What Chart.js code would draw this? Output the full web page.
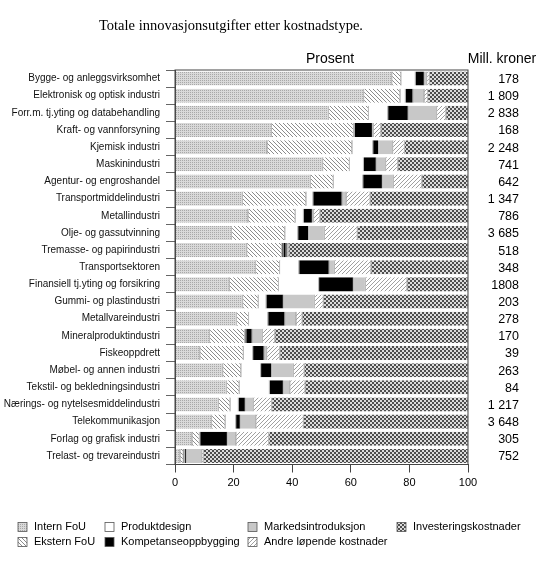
<!DOCTYPE html>
<html>
<head>
<meta charset="utf-8">
<script src="https://cdn.jsdelivr.net/npm/chart.js@4"></script>
<style>
  html, body { margin: 0; padding: 0; background: #fff; }
  #wrap { width: 550px; height: 565px; }
</style>
</head>
<body>
<div id="wrap"><canvas id="chart" width="550" height="565"></canvas></div>
<script>
const categories = [
    'Bygge- og anleggsvirksomhet', 'Elektronisk og optisk industri', 'Forr.m. tj.yting og databehandling',
    'Kraft- og vannforsyning', 'Kjemisk industri', 'Maskinindustri', 'Agentur- og engroshandel',
    'Transportmiddelindustri', 'Metallindustri', 'Olje- og gassutvinning', 'Tremasse- og papirindustri',
    'Transportsektoren', 'Finansiell tj.yting og forsikring', 'Gummi- og plastindustri', 'Metallvareindustri',
    'Mineralproduktindustri', 'Fiskeoppdrett', 'Møbel- og annen industri', 'Tekstil- og bekledningsindustri',
    'Nærings- og nytelsesmiddelindustri', 'Telekommunikasjon', 'Forlag og grafisk industri', 'Trelast- og trevareindustri'
];

const internFoU     = [74.0, 64.4, 52.4, 32.9, 31.4, 50.4, 46.2, 23.0, 24.9, 19.3, 24.5, 27.5, 18.5, 23.1, 21.0, 11.8, 8.5, 16.3, 17.6, 14.8, 12.5, 5.8, 1.7];
const eksternFoU    = [3.1, 12.4, 13.6, 28.0, 29.0, 9.1, 7.8, 21.7, 16.1, 18.2, 12.0, 8.2, 16.8, 5.3, 4.1, 12.0, 14.8, 6.2, 4.3, 4.0, 4.6, 2.5, 1.1];
const produktdesign = [4.9, 1.8, 6.6, 0.3, 7.1, 4.8, 10.1, 2.4, 2.8, 4.4, 0.4, 6.6, 13.7, 2.7, 6.6, 0.4, 3.2, 6.7, 10.3, 2.8, 3.6, 0.2, 0.4];
const kompetanse    = [3.1, 2.6, 7.0, 6.2, 2.0, 4.4, 6.7, 9.9, 3.1, 3.7, 1.0, 10.3, 11.9, 5.9, 5.8, 2.1, 3.9, 3.8, 4.8, 2.4, 1.6, 9.4, 0.7];
const markeds       = [0.8, 3.8, 9.7, 0.3, 4.8, 3.2, 3.7, 1.4, 0.4, 5.4, 0.4, 1.8, 4.1, 10.6, 3.8, 3.5, 0.9, 7.4, 2.2, 2.7, 5.3, 2.9, 5.2];
const andre         = [0.9, 1.2, 3.2, 2.6, 4.0, 4.2, 9.8, 8.2, 2.2, 11.2, 0.6, 12.5, 14.2, 3.0, 2.1, 4.3, 4.5, 3.7, 5.2, 6.3, 16.2, 11.2, 0.6];
const investering   = [13.2, 13.8, 7.5, 29.7, 21.7, 23.9, 15.7, 33.4, 50.5, 37.8, 61.1, 33.1, 20.8, 49.4, 56.6, 65.9, 64.2, 55.9, 55.6, 67.0, 56.2, 68.0, 90.3];

const millKroner = ['178', '1 809', '2 838', '168', '2 248', '741', '642', '1 347', '786', '3 685', '518', '348',
    '1808', '203', '278', '170', '39', '263', '84', '1 217', '3 648', '305', '752'];

const xTicks = [0, 20, 40, 60, 80, 100];

// fill patterns (grey-scale like the print original)
function makePattern(size, draw) {
    const c = document.createElement('canvas');
    c.width = size; c.height = size;
    const g = c.getContext('2d');
    draw(g, size);
    return g.createPattern(c, 'repeat');
}
const dots = makePattern(2, (g) => {
    g.fillStyle = '#d9d9d9'; g.fillRect(0, 0, 2, 2);
    g.fillStyle = '#a8a8a8'; g.fillRect(0, 0, 1, 1);
});
const hatchBack = makePattern(4, (g, s) => {
    g.fillStyle = '#fff'; g.fillRect(0, 0, s, s);
    g.fillStyle = '#8c8c8c';
    for (let i = 0; i < s; i++) g.fillRect(i, i, 1, 1);
});
const hatchFwd = makePattern(4, (g, s) => {
    g.fillStyle = '#fff'; g.fillRect(0, 0, s, s);
    g.fillStyle = '#a0a0a0';
    for (let i = 0; i < s; i++) g.fillRect(s - 1 - i, i, 1, 1);
});
const checker = makePattern(4, (g) => {
    g.fillStyle = '#4e4e4e'; g.fillRect(0, 0, 4, 4);
    g.fillStyle = '#dcdcdc'; g.fillRect(0, 0, 2, 2); g.fillRect(2, 2, 2, 2);
});

const series = [
    { label: 'Intern FoU', data: internFoU, fill: dots },
    { label: 'Ekstern FoU', data: eksternFoU, fill: hatchBack },
    { label: 'Produktdesign', data: produktdesign, fill: '#ffffff' },
    { label: 'Kompetanseoppbygging', data: kompetanse, fill: '#000000' },
    { label: 'Markedsintroduksjon', data: markeds, fill: '#c8c8c8' },
    { label: 'Andre løpende kostnader', data: andre, fill: hatchFwd },
    { label: 'Investeringskostnader', data: investering, fill: checker }
];

// legend grid: column-wise, two rows
const legendCols = [18, 105, 248, 397];
const legendRows = [527, 542];

const extras = {
    id: 'extras',
    afterDraw(chart) {
        const ctx = chart.ctx;
        const a = chart.chartArea;
        const yScale = chart.scales.y;
        ctx.save();
        // frame
        ctx.strokeStyle = '#444';
        ctx.lineWidth = 1;
        ctx.strokeRect(a.left, a.top, a.right - a.left, a.bottom - a.top);

        // title
        ctx.fillStyle = '#000';
        ctx.textBaseline = 'middle';
        ctx.textAlign = 'left';
        ctx.font = '14.5px "Liberation Serif", "Times New Roman", serif';
        ctx.fillText('Totale innovasjonsutgifter etter kostnadstype.', 99, 26);

        ctx.font = '14px "Liberation Sans", Arial, sans-serif';
        ctx.textAlign = 'center';
        ctx.fillText('Prosent', 330, 59);
        ctx.fillText('Mill. kroner', 502, 59);

        // right-hand column
        ctx.textAlign = 'right';
        ctx.font = '12.5px "Liberation Sans", Arial, sans-serif';
        millKroner.forEach((v, i) => {
            ctx.fillText(v, 519, yScale.getPixelForValue(i) + 1);
        });

        // legend
        ctx.font = '11px "Liberation Sans", Arial, sans-serif';
        ctx.textAlign = 'left';
        series.forEach((s, i) => {
            const x = legendCols[Math.floor(i / 2)];
            const y = legendRows[i % 2];
            ctx.fillStyle = s.fill;
            ctx.fillRect(x, y - 4.5, 9, 9);
            ctx.strokeStyle = '#555';
            ctx.lineWidth = 0.8;
            ctx.strokeRect(x, y - 4.5, 9, 9);
            ctx.fillStyle = '#000';
            ctx.fillText(s.label, x + 16, y);
        });
        ctx.restore();
    }
};

const ctx = document.getElementById('chart').getContext('2d');
const chart = new Chart(ctx, {
    type: 'bar',
    data: {
        labels: categories,
        datasets: series.map(s => ({
            label: s.label,
            data: s.data,
            backgroundColor: s.fill,
            borderColor: '#6a6a6a',
            borderWidth: { left: 0.6, right: 0.6, top: 0, bottom: 0 },
            borderSkipped: false,
            barPercentage: 0.82,
            categoryPercentage: 1.0
        }))
    },
    options: {
        indexAxis: 'y',
        responsive: false,
        animation: false,
        maintainAspectRatio: false,
        layout: { padding: { left: 0, right: 82, top: 70, bottom: 70.5 } },
        plugins: {
            legend: { display: false },
            title: { display: false },
            tooltip: { enabled: false }
        },
        scales: {
            x: {
                stacked: true,
                min: 0,
                max: 100,
                afterBuildTicks: (scale) => { scale.ticks = xTicks.map(v => ({ value: v })); },
                afterFit: (scale) => { scale.height = 30; },
                grid: { drawOnChartArea: false, drawTicks: true, tickLength: 8, color: '#444' },
                border: { display: true, color: '#444' },
                ticks: {
                    color: '#000',
                    padding: 4,
                    font: { family: '"Liberation Sans", Arial, sans-serif', size: 11 }
                }
            },
            y: {
                stacked: true,
                afterFit: (scale) => { scale.width = 175; },
                grid: { drawOnChartArea: false, drawTicks: true, tickLength: 9, color: '#666' },
                border: { display: true, color: '#444' },
                ticks: {
                    autoSkip: false,
                    color: '#111',
                    padding: 6,
                    font: { family: '"Liberation Sans", Arial, sans-serif', size: 10 }
                }
            }
        }
    },
    plugins: [extras]
});
</script>
</body>
</html>
